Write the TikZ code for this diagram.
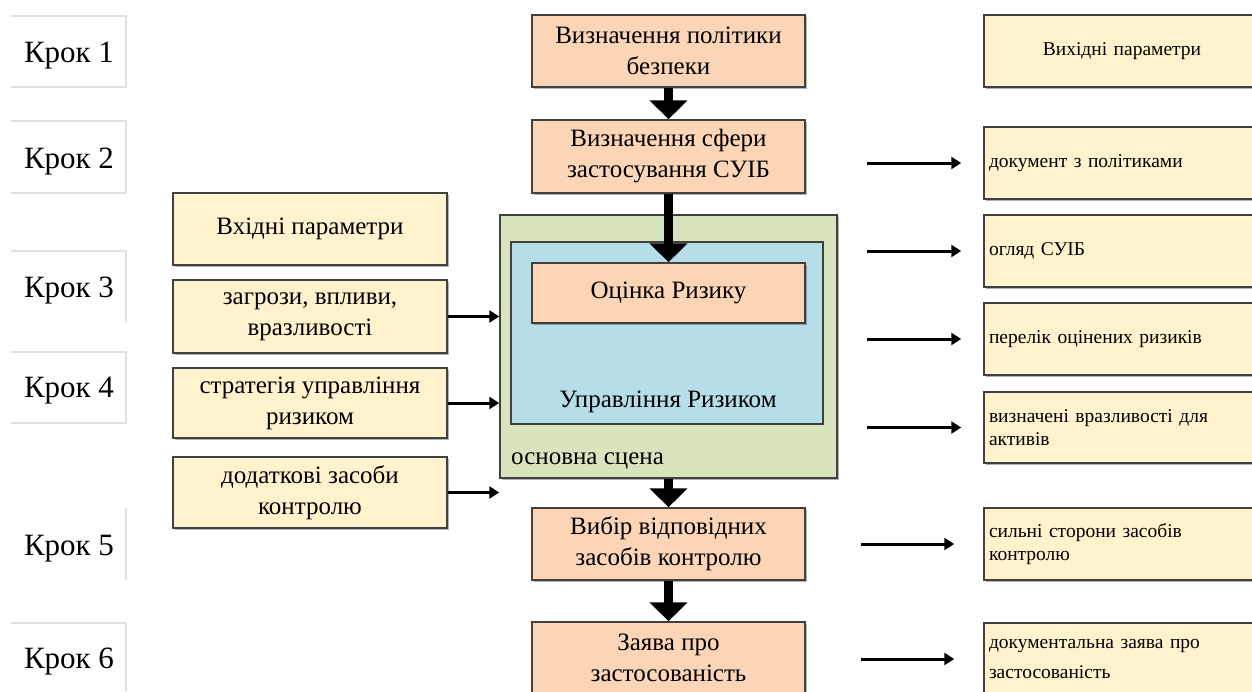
\documentclass[tikz,border=0pt]{standalone}
\usepackage{fontspec}
\setmainfont{Liberation Serif}
\usetikzlibrary{arrows.meta,calc,shadows}
\definecolor{peach}{HTML}{FBD5B5}
\definecolor{cream}{HTML}{FFF2CC}
\definecolor{sage}{HTML}{D7E4BD}
\definecolor{skyb}{HTML}{B7DDE8}
\definecolor{edge}{HTML}{404040}
\begin{document}
\begin{tikzpicture}[x=1pt,y=-1pt,
 shd/.style={drop shadow={shadow xshift=1.5pt, shadow yshift=-1.5pt, opacity=0.3, fill=black}},
 box/.style={draw=edge, line width=1.5pt, shd, minimum width=273pt, minimum height=72pt, inner sep=2pt, align=center, font=\fontsize{25}{31}\selectfont},
 cbox/.style={box, fill=peach},
 lbox/.style={box, fill=cream},
 rbox/.style={draw=edge, line width=1.5pt, shd, fill=cream, minimum width=276pt, minimum height=72pt, text width=266pt, align=left, inner sep=4pt, font=\fontsize{19.5}{23}\selectfont},
 krok/.style={font=\fontsize{31}{34}\selectfont},
 big/.style={line width=9pt, -{Triangle[width=37pt,length=19pt]}},
 arr/.style={line width=3pt, -{Triangle[width=12pt,length=10pt]}},
 faint/.style={draw=black!12, line width=1.2pt}
]
\useasboundingbox (0,0) rectangle (1252,691);
\clip (0,0) rectangle (1252,691);
% Krok frames
\draw[faint] (11,16) -- (126,16) -- (126,87) -- (11,87);
\draw[faint] (11,121) -- (126,121) -- (126,193) -- (11,193);
\draw[faint] (11,251) -- (126,251) -- (126,322);
\draw[faint] (11,352) -- (126,352) -- (126,423) -- (11,423);
\draw[faint] (126,508) -- (126,580);
\draw[faint] (11,623) -- (126,623) -- (126,691);
\node[krok] (k1) at (69,56) {Крок 1};
\node[krok] (k2) at (69,162) {Крок 2};
\node[krok] (k3) at (69,291) {Крок 3};
\node[krok] (k4) at (69,391) {Крок 4};
\node[krok] (k5) at (69,549) {Крок 5};
\node[krok] (k6) at (69,662) {Крок 6};
% main stage
\node[draw=edge, line width=1.5pt, shd, fill=sage, minimum width=337pt, minimum height=263pt, inner sep=0pt] (g) at (668.5,346.5) {};
\node[draw=edge, line width=1.5pt, fill=skyb, minimum width=312pt, minimum height=182pt, inner sep=0pt] (b) at (667,333) {};
\node[font=\fontsize{25}{31}\selectfont] (um) at (668,402) {Управління Ризиком};
\node[font=\fontsize{25}{31}\selectfont, anchor=west, inner sep=0pt] (os) at (511,461) {основна сцена};
% central column
\node[cbox] (c1) at (668.5,51) {Визначення політики\\безпеки};
\node[cbox, minimum height=73pt] (c2) at (668.5,156.5) {Визначення сфери\\застосування СУІБ};
\node[cbox, minimum height=60pt] (c3) at (668.5,293) {Оцінка Ризику};
\node[cbox] (c5) at (668.5,544) {Вибір відповідних\\засобів контролю};
\node[cbox] (c6) at (668.5,658) {Заява про\\застосованість};
\draw[big] (c1.south) -- (c2.north);
\draw[big] (c2.south) -- (c3.north);
\draw[big] (g.south) -- (c5.north);
\draw[big] (c5.south) -- (c6.north);
% left inputs
\node[lbox, minimum width=274pt] (l0) at (310,229) {Вхідні параметри};
\node[lbox, minimum width=274pt, minimum height=73pt] (l1) at (310,316.5) {загрози, впливи,\\вразливості};
\node[lbox, minimum width=274pt, minimum height=70pt] (l2) at (310,403) {стратегія управління\\ризиком};
\node[lbox, minimum width=274pt, minimum height=71pt] (l3) at (310,492.5) {додаткові засоби\\контролю};
\draw[arr] (l1.east) -- (l1.east -| g.west);
\draw[arr] (l2.east) -- (l2.east -| g.west);
\draw[arr] (l3.east) -- (l3.east -| g.west);
% right outputs
\node[rbox, align=center] (r0) at (1122,51) {Вихідні параметри};
\node[rbox] (r1) at (1122,163) {документ з політиками};
\node[rbox] (r2) at (1122,251) {огляд СУІБ};
\node[rbox] (r3) at (1122,339) {перелік оцінених ризиків};
\node[rbox, minimum height=71pt] (r4) at (1122,427.5) {визначені вразливості для\\активів};
\node[rbox] (r5) at (1122,544) {сильні сторони засобів\\контролю};
\node[rbox, font=\fontsize{19.5}{30}\selectfont] (r6) at (1122,659) {документальна заява про\\застосованість};
\draw[arr, shorten >=22pt] ([xshift=-116pt]r1.west) -- (r1.west);
\draw[arr, shorten >=22pt] ([xshift=-116pt]r2.west) -- (r2.west);
\draw[arr, shorten >=22pt] ([xshift=-116pt]r3.west) -- (r3.west);
\draw[arr, shorten >=22pt] ([xshift=-116pt]r4.west) -- (r4.west);
\draw[arr, shorten >=29pt] ([xshift=-122pt]r5.west) -- (r5.west);
\draw[arr, shorten >=29pt] ([xshift=-122pt]r6.west) -- (r6.west);
\end{tikzpicture}
\end{document}
